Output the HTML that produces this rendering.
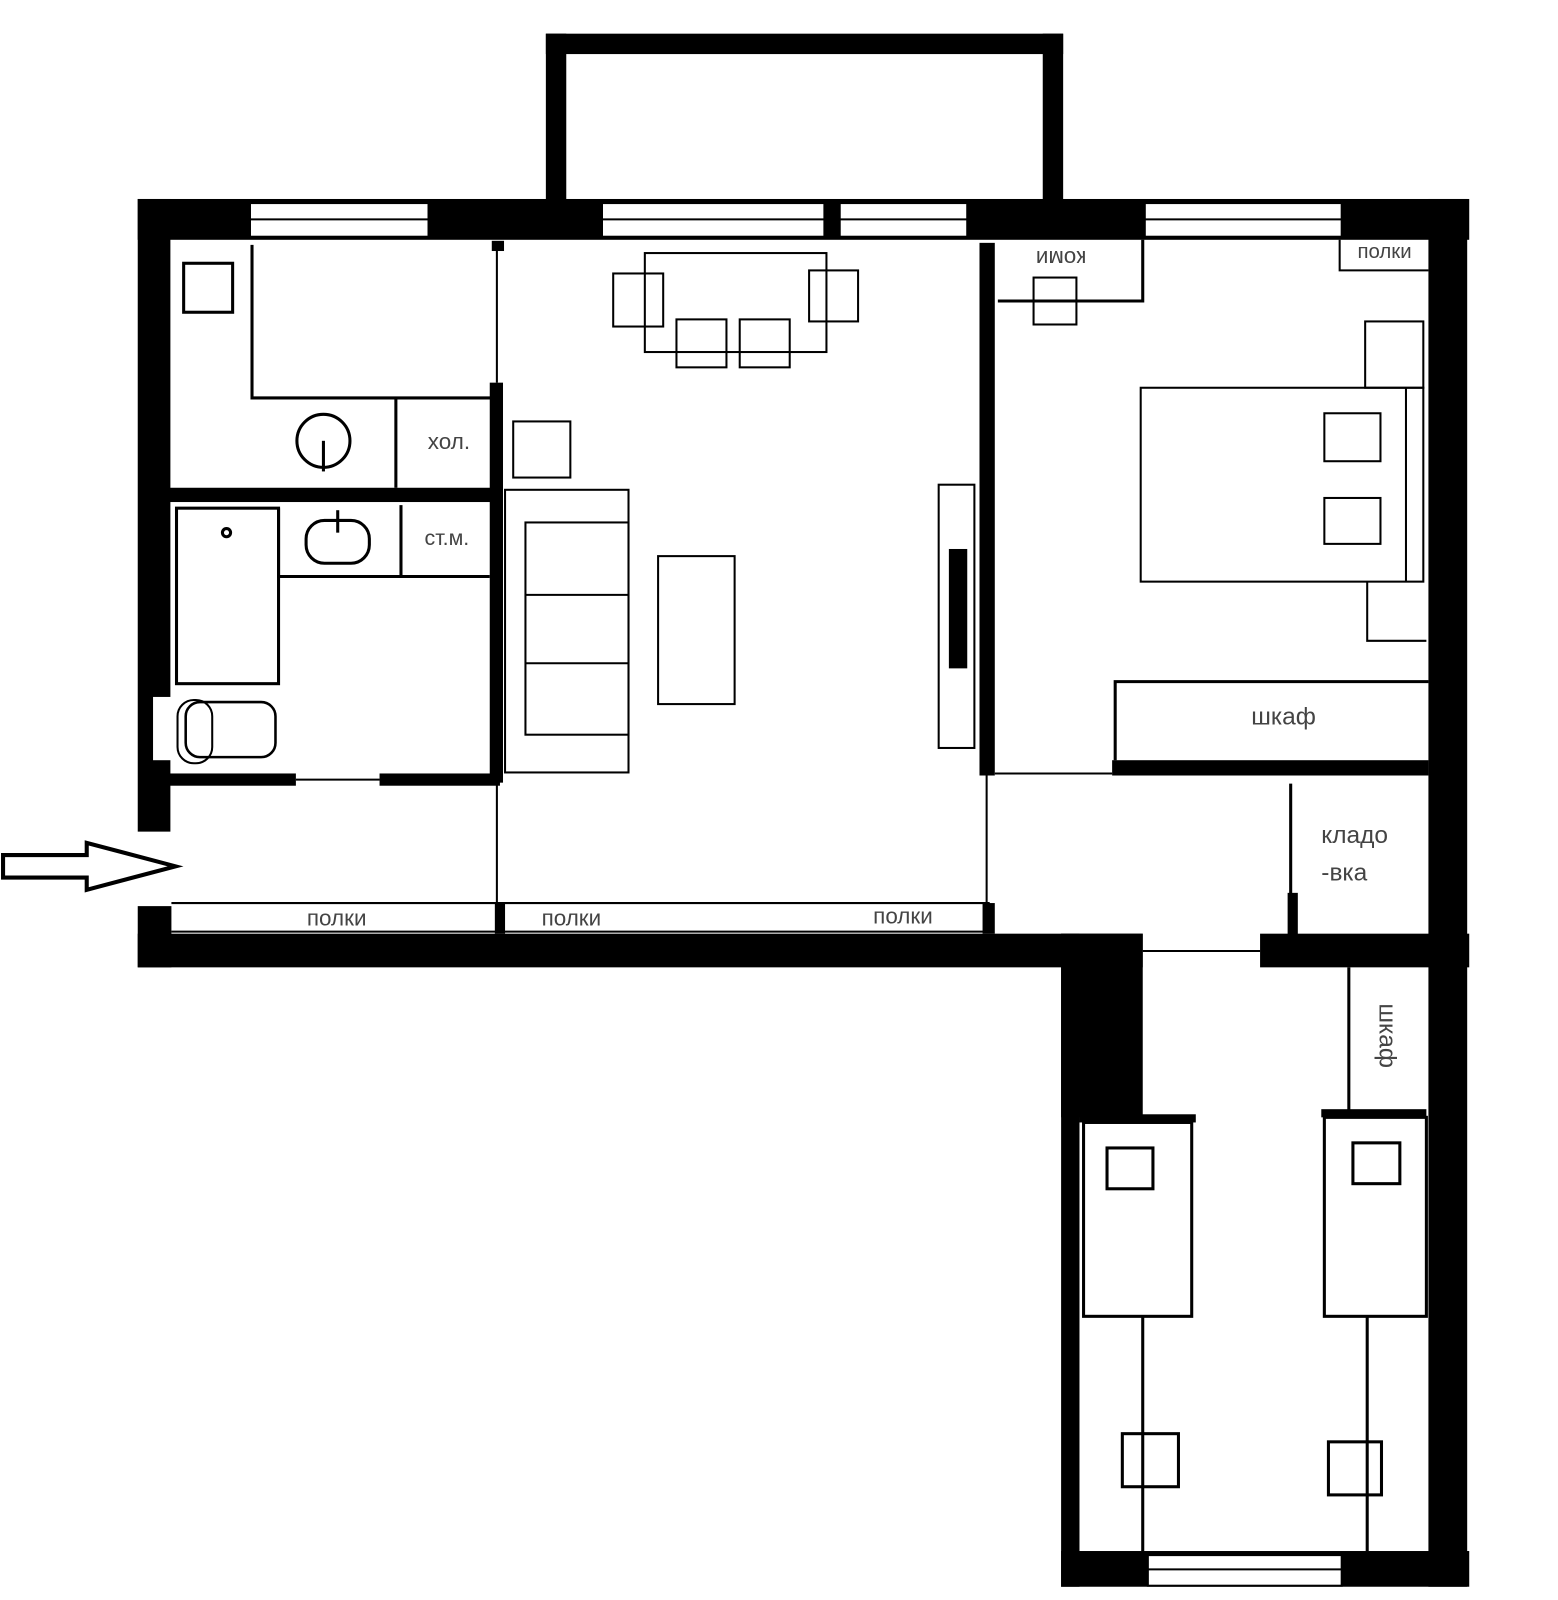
<!DOCTYPE html>
<html><head><meta charset="utf-8"><style>html,body{margin:0;padding:0;background:#fff}svg{display:block}</style></head>
<body>
<svg width="1558" height="1600" viewBox="0 0 1527 1568" preserveAspectRatio="none" xmlns="http://www.w3.org/2000/svg">
<rect width="1527" height="1568" fill="#fff"/>
<g fill="#000">
<!-- balcony -->
<rect x="535" y="33" width="507" height="20"/>
<rect x="535" y="33" width="20" height="165"/>
<rect x="1022" y="33" width="20" height="165"/>
<!-- top wall -->
<rect x="135" y="195" width="1305" height="40"/>
<!-- left wall -->
<rect x="135" y="195" width="32" height="620"/>
<rect x="135" y="888" width="33" height="60"/>
<!-- bottom wall of upper part -->
<rect x="135" y="915" width="985" height="33"/>
<rect x="1235" y="915" width="205" height="33"/>
<!-- right wall -->
<rect x="1400" y="195" width="38" height="1360"/>
<!-- lower block -->
<rect x="1040" y="915" width="80" height="180"/>
<rect x="1040" y="915" width="18" height="640"/>
<rect x="1040" y="1520" width="400" height="35"/>
<!-- interior thick walls -->
<rect x="165" y="478" width="325" height="14"/>
<rect x="480" y="375" width="13" height="392"/>
<rect x="482" y="236" width="12" height="10"/>
<rect x="165" y="758" width="125" height="12"/>
<rect x="372" y="758" width="118" height="12"/>
<rect x="960" y="238" width="15" height="522"/>
<rect x="1090" y="745" width="310" height="15"/>
<rect x="1262" y="875" width="10" height="42"/>
<rect x="485" y="885" width="10" height="30"/>
<rect x="963" y="885" width="12" height="30"/>
<rect x="1058" y="1092" width="114" height="8"/>
<rect x="1295" y="1087" width="103" height="8"/>
<rect x="930" y="538" width="18" height="117"/>
</g>
<!-- windows -->
<g fill="#fff" stroke="#000" stroke-width="2">
<rect x="245" y="199" width="175" height="33"/>
<rect x="590" y="199" width="218" height="33"/>
<rect x="823" y="199" width="125" height="33"/>
<rect x="1122" y="199" width="193" height="33"/>
<rect x="1125" y="1524" width="190" height="30"/>
</g>
<g stroke="#000" stroke-width="2">
<line x1="245" y1="215" x2="420" y2="215"/>
<line x1="590" y1="215" x2="808" y2="215"/>
<line x1="823" y1="215" x2="948" y2="215"/>
<line x1="1122" y1="215" x2="1315" y2="215"/>
<line x1="1125" y1="1538" x2="1315" y2="1538"/>
</g>
<!-- white notch for toilet -->
<rect x="150" y="683" width="18" height="62" fill="#fff"/>
<!-- thin lines & furniture -->
<g fill="none" stroke="#000" stroke-width="3">
<line x1="487" y1="240" x2="487" y2="375" stroke-width="2"/>
<polyline points="247,240 247,390 485,390"/>
<line x1="388" y1="390" x2="388" y2="478"/>
<rect x="180" y="258" width="48" height="48"/>
<circle cx="317" cy="432" r="26"/>
<line x1="317" y1="432" x2="317" y2="462"/>
<rect x="173" y="498" width="100" height="172"/>
<circle cx="222" cy="522" r="4"/>
<polyline points="273,498 273,565 480,565"/>
<line x1="393" y1="495" x2="393" y2="565"/>
<rect x="300" y="510" width="62" height="42" rx="18"/>
<line x1="331" y1="500" x2="331" y2="522"/>
<rect x="182" y="688" width="88" height="54" rx="14" stroke-width="2.5"/>
<rect x="174" y="686" width="34" height="62" rx="16" stroke-width="2"/>
<line x1="290" y1="764" x2="372" y2="764" stroke-width="2"/>
<line x1="487" y1="767" x2="487" y2="885" stroke-width="2"/>
<line x1="967" y1="760" x2="967" y2="885" stroke-width="2"/>
<line x1="168" y1="885" x2="970" y2="885" stroke-width="2"/>
<line x1="168" y1="913" x2="970" y2="913" stroke-width="2"/>
<line x1="975" y1="758" x2="1090" y2="758" stroke-width="2"/>
<line x1="1120" y1="932" x2="1235" y2="932" stroke-width="2"/>
<!-- living -->
<g stroke-width="2">
<rect x="632" y="248" width="178" height="97"/>
<rect x="601" y="268" width="49" height="52"/>
<rect x="793" y="265" width="48" height="50"/>
<rect x="663" y="313" width="49" height="47"/>
<rect x="725" y="313" width="49" height="47"/>
<rect x="503" y="413" width="56" height="55"/>
<rect x="495" y="480" width="121" height="277"/>
<rect x="515" y="512" width="101" height="208"/>
<line x1="515" y1="583" x2="616" y2="583"/>
<line x1="515" y1="650" x2="616" y2="650"/>
<rect x="645" y="545" width="75" height="145"/>
<rect x="920" y="475" width="35" height="258"/>
</g>
<!-- bedroom -->
<polyline points="1120,235 1120,295 978,295"/>
<rect x="1013" y="272" width="42" height="46" stroke-width="2"/>
<polyline points="1313,235 1313,265 1400,265" stroke-width="2"/>
<rect x="1338" y="315" width="57" height="65" stroke-width="2"/>
<rect x="1118" y="380" width="277" height="190" stroke-width="2"/>
<line x1="1378" y1="380" x2="1378" y2="570" stroke-width="2"/>
<rect x="1298" y="405" width="55" height="47" stroke-width="2"/>
<rect x="1298" y="488" width="55" height="45" stroke-width="2"/>
<polyline points="1340,570 1340,628 1398,628" stroke-width="2"/>
<polyline points="1093,745 1093,668 1400,668"/>
<line x1="1265" y1="768" x2="1265" y2="880"/>
<line x1="1322" y1="948" x2="1322" y2="1090"/>
<!-- lower room -->
<rect x="1062" y="1100" width="106" height="190"/>
<rect x="1085" y="1125" width="45" height="40"/>
<rect x="1298" y="1095" width="100" height="195"/>
<rect x="1326" y="1120" width="46" height="40"/>
<line x1="1120" y1="1290" x2="1120" y2="1520"/>
<line x1="1340" y1="1290" x2="1340" y2="1520"/>
<rect x="1100" y="1405" width="55" height="52"/>
<rect x="1302" y="1413" width="52" height="52"/>
</g>
<!-- arrow -->
<polygon points="3,838 85,838 85,826 172,849 85,872 85,860 3,860" fill="#fff" stroke="#000" stroke-width="4" stroke-linejoin="miter"/>
<!-- labels -->
<g font-family="Liberation Sans, DejaVu Sans, sans-serif" fill="#444" font-size="22">
<text x="440" y="440" text-anchor="middle">хол.</text>
<text x="438" y="534" text-anchor="middle" font-size="21">ст.м.</text>
<text x="330" y="907" text-anchor="middle">полки</text>
<text x="560" y="907" text-anchor="middle">полки</text>
<text x="885" y="905" text-anchor="middle">полки</text>
<text x="1357" y="253" text-anchor="middle" font-size="20">полки</text>
<text x="0" y="0" text-anchor="middle" transform="translate(1040,246) rotate(180)">коми</text>
<text x="1258" y="710" text-anchor="middle" font-size="24">шкаф</text>
<text x="1295" y="826" font-size="24">кладо</text>
<text x="1295" y="863" font-size="24">-вка</text>
<text x="0" y="0" text-anchor="middle" font-size="24" transform="translate(1352,1015) rotate(90)">шкаф</text>
</g>
</svg>
</body></html>
